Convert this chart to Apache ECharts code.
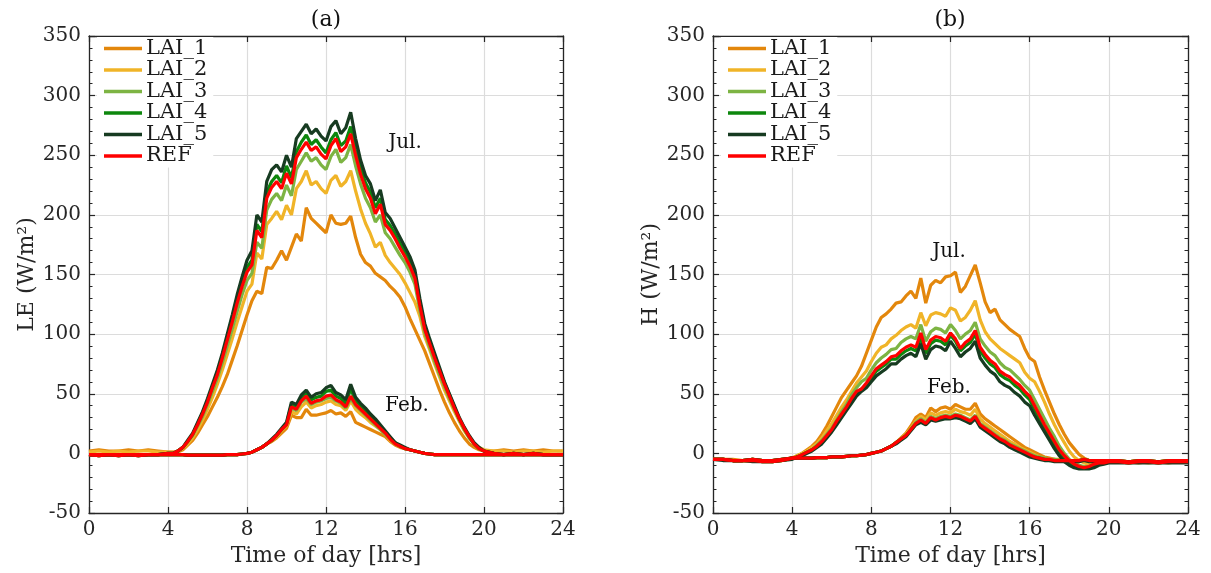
<!DOCTYPE html>
<html><head><meta charset="utf-8">
<script src="https://cdn.jsdelivr.net/npm/echarts@6/dist/echarts.min.js"></script>
<style>html,body{margin:0;padding:0;background:#fff}#c{width:1211px;height:573px}</style>
</head><body><div id="c"></div>
<script>
const hours = [0,0.5,1,1.5,2,2.5,3,3.5,4,
 4.25,4.5,4.75,5,5.25,5.5,5.75,6,
 6.25,6.5,6.75,7,7.25,7.5,7.75,8,
 8.25,8.5,8.75,9,9.25,9.5,9.75,10,
 10.25,10.5,10.75,11,11.25,11.5,11.75,12,
 12.25,12.5,12.75,13,13.25,13.5,13.75,14,
 14.25,14.5,14.75,15,15.25,15.5,15.75,16,
 16.25,16.5,16.75,17,17.25,17.5,17.75,18,
 18.25,18.5,18.75,19,19.25,19.5,19.75,20,
 20.5,21,21.5,22,22.5,23,23.5,24];

const seriesNames = ['LAI_1','LAI_2','LAI_3','LAI_4','LAI_5','REF'];
const xTicks = [0,4,8,12,16,20,24];
const yTicks = [-50,0,50,100,150,200,250,300,350];

// ---- (a) LE, July ----
const leJul_LAI1 = [2,3,2,2,3,2,3,2,1,
 1,1,3,7,11,17,24,31,
 39,47,56,66,78,90,103,116,
 128,136,134,156,155,162,170,162,
 173,184,178,206,197,193,189,185,
 200,193,192,193,199,181,167,160,
 157,151,148,145,140,136,131,123,
 113,104,95,86,75,64,53,43,
 34,26,19,13,8,5,3,2,
 2,3,2,3,2,3,2,2];
const leJul_LAI2 = [1,2,1,2,1,2,2,1,1,
 1,2,4,8,13,20,28,37,
 47,58,70,83,96,110,123,136,
 142,168,163,192,197,203,196,208,
 200,222,228,237,225,228,222,218,
 229,233,224,228,237,220,205,193,
 184,173,177,166,160,155,150,143,
 135,127,115,98,87,75,64,53,
 44,35,27,19,13,8,5,3,
 2,2,1,2,2,1,2,2];
const leJul_LAI3 = [-1,-2,-1,-2,-1,-2,-1,-1,0,
 0,2,5,10,15,23,31,41,
 52,63,76,90,104,119,133,145,
 151,177,172,204,213,218,212,225,
 216,238,245,252,245,248,242,238,
 249,255,244,248,259,241,226,214,
 206,194,200,185,180,173,166,160,
 152,142,120,101,89,77,66,56,
 46,37,28,20,13,8,4,2,
 0,-1,0,-1,0,-1,-1,-1];
const leJul_LAI4 = [-1,-2,-1,-2,-1,-2,-1,-1,0,
 0,2,5,10,16,25,34,44,
 56,68,82,97,113,129,144,156,
 162,192,186,219,228,233,227,241,
 231,253,261,267,259,263,257,252,
 263,269,258,262,274,255,239,227,
 219,206,214,196,191,184,176,169,
 160,150,127,106,94,82,70,59,
 49,39,29,21,14,8,4,2,
 0,-1,0,-1,0,-1,-1,-1];
const leJul_LAI5 = [-1,-2,-1,-2,-1,-2,-1,-1,0,
 0,2,5,11,17,26,35,46,
 58,70,84,100,116,133,148,162,
 170,200,194,228,238,242,236,250,
 240,264,270,276,268,272,266,262,
 274,279,268,273,286,264,246,233,
 226,212,221,202,197,189,181,173,
 165,154,130,109,96,84,72,60,
 50,40,30,22,15,9,5,2,
 0,-1,0,-1,0,-1,-1,-1];
const leJul_REF = [-1,-2,-1,-2,-1,-2,-1,-1,0,
 0,2,5,10,16,24,33,43,
 55,66,80,95,110,126,140,152,
 158,187,181,214,223,228,222,235,
 226,248,255,261,254,257,251,247,
 258,264,253,257,268,250,234,222,
 214,201,209,192,187,180,172,165,
 157,147,124,104,92,80,69,58,
 48,38,29,21,14,8,4,2,
 0,-1,0,-1,0,-1,-1,-1];

// ---- (a) LE, February ----
const leFeb_LAI1 = [-1,-1,-1,-1,-1,-1,-1,-1,-1,
 -1,-1,-1,-1.5,-1.5,-1.5,-1.5,-1.5,
 -1.5,-1.5,-1.5,-1,-1,-1,-0.5,0,
 1,3,5,8,10,13,17,21,
 32,30,30,37,32,32,33,34,
 36,33,34,31,35,26,24,22,
 20,18,16,14,10,7,5,4,
 3,2,1,0,-0.5,-1,-1,-1,
 -1,-1,-1,-1,-1,-1,-1,-1,
 -1,-1,-1,-1,-1,-1,-1,-1];
const leFeb_LAI2 = [-1,-1,-1,-1,-1,-1,-1,-1,-1,
 -1,-1,-1,-1.5,-1.5,-1.5,-1.5,-1.5,
 -1.5,-1.5,-1.5,-1,-1,-1,-0.5,0,
 1,3,5,8,11,14,19,23,
 35,33,39,43,38,40,41,43,
 44,41,40,36,44,37,33,30,
 26,23,20,16,11,8,6,4,
 3,2,1,0,-0.5,-1,-1,-1,
 -1,-1,-1,-1,-1,-1,-1,-1,
 -1,-1,-1,-1,-1,-1,-1,-1];
const leFeb_LAI3 = [-1,-1,-1,-1,-1,-1,-1,-1,-1,
 -1,-1,-1,-1.5,-1.5,-1.5,-1.5,-1.5,
 -1.5,-1.5,-1.5,-1,-1,-1,-0.5,0,
 1,3,5,8,11,15,20,24,
 38,36,43,46,41,43,44,46,
 47,44,42,38,46,40,36,32,
 28,24,20,16,12,8,6,4,
 3,2,1,0,-0.5,-1,-1,-1,
 -1,-1,-1,-1,-1,-1,-1,-1,
 -1,-1,-1,-1,-1,-1,-1,-1];
const leFeb_LAI4 = [-1,-1,-1,-1,-1,-1,-1,-1,-1,
 -1,-1,-1,-1.5,-1.5,-1.5,-1.5,-1.5,
 -1.5,-1.5,-1.5,-1,-1,-1,-0.5,0,
 1,3,5,8,11,15,20,25,
 41,39,47,51,45,47,48,52,
 53,48,46,42,54,44,40,36,
 31,27,23,18,13,9,6,4,
 3,2,1,0,-0.5,-1,-1,-1,
 -1,-1,-1,-1,-1,-1,-1,-1,
 -1,-1,-1,-1,-1,-1,-1,-1];
const leFeb_LAI5 = [-1,-1,-1,-1,-1,-1,-1,-1,-1,
 -1,-1,-1,-1.5,-1.5,-1.5,-1.5,-1.5,
 -1.5,-1.5,-1.5,-1,-1,-1,-0.5,0,
 1,3,5,8,12,16,21,26,
 43,41,49,53,47,50,51,55,
 57,51,49,45,58,47,42,38,
 33,29,24,19,14,9,7,5,
 3,2,1,0,-0.5,-1,-1,-1,
 -1,-1,-1,-1,-1,-1,-1,-1,
 -1,-1,-1,-1,-1,-1,-1,-1];
const leFeb_REF = [-1,-1,-1,-1,-1,-1,-1,-1,-1,
 -1,-1,-1,-1.5,-1.5,-1.5,-1.5,-1.5,
 -1.5,-1.5,-1.5,-1,-1,-1,-0.5,0,
 1,3,5,8,11,15,20,24,
 39,37,44,48,42,44,45,48,
 49,45,43,39,48,41,37,33,
 29,25,21,17,12,8,6,4,
 3,2,1,0,-0.5,-1,-1,-1,
 -1,-1,-1,-1,-1,-1,-1,-1,
 -1,-1,-1,-1,-1,-1,-1,-1];

// ---- (b) H, July ----
const hJul_LAI1 = [-5,-5,-5,-6,-6,-6,-6,-6,-4,
 -2,0,3,6,10,16,23,31,
 39,47,53,59,65,73,84,95,
 106,114,117,121,126,127,132,136,
 130,147,126,141,145,143,148,149,
 152,135,140,149,158,143,127,118,
 121,112,108,104,101,98,88,80,
 77,64,53,43,33,24,16,9,
 4,-1,-4,-6,-7,-7,-7,-7,
 -7,-7,-8,-7,-7,-8,-7,-7];
const hJul_LAI2 = [-5,-5,-6,-6,-6,-6,-7,-6,-4,
 -2,0,2,5,8,13,19,25,
 32,39,45,52,59,64,69,77,
 84,89,91,96,99,103,106,108,
 105,118,107,116,118,117,115,122,
 120,111,114,120,128,112,102,96,
 92,88,85,82,79,76,68,63,
 60,52,43,33,24,16,9,2,
 -3,-6,-8,-9,-9,-8,-8,-7,
 -7,-7,-7,-8,-7,-7,-7,-7];
const hJul_LAI3 = [-5,-5,-6,-6,-6,-7,-7,-6,-4,
 -3,-1,1,3,7,11,16,21,
 28,35,41,49,55,60,63,70,
 76,80,83,87,88,93,96,98,
 96,108,94,102,105,104,101,108,
 103,96,100,103,110,96,90,85,
 82,76,72,70,66,62,57,53,
 45,37,29,21,14,6,0,-5,
 -8,-10,-11,-11,-9,-8,-8,-7,
 -7,-8,-7,-7,-8,-7,-7,-7];
const hJul_LAI4 = [-5,-5,-6,-6,-6,-7,-7,-6,-4,
 -3,-1,1,3,6,9,14,19,
 26,32,38,45,50,54,57,63,
 69,72,75,79,79,83,86,88,
 86,97,84,92,95,94,91,99,
 94,86,90,93,100,86,80,75,
 72,66,63,61,57,54,49,45,
 37,29,21,14,7,1,-4,-8,
 -10,-12,-12,-12,-10,-9,-8,-7,
 -7,-8,-7,-7,-8,-7,-7,-7];
const hJul_LAI5 = [-5,-6,-6,-6,-7,-7,-7,-6,-5,
 -3,-2,0,2,5,8,13,18,
 24,30,36,42,48,52,55,60,
 65,68,71,75,75,79,82,84,
 81,92,79,87,90,89,86,94,
 88,81,85,88,94,80,74,69,
 66,60,57,55,51,48,43,40,
 32,25,18,11,4,-2,-7,-10,
 -12,-13,-13,-13,-12,-10,-9,-8,
 -8,-8,-8,-8,-8,-8,-8,-8];
const hJul_REF = [-5,-5,-6,-6,-6,-7,-7,-6,-4,
 -3,-1,1,3,6,10,15,20,
 27,33,39,46,52,54,59,65,
 71,74,77,81,82,86,89,91,
 89,101,87,95,98,97,94,101,
 96,88,93,96,103,89,83,78,
 75,69,66,64,60,57,52,48,
 40,32,24,17,10,3,-2,-6,
 -9,-11,-12,-11,-9,-8,-8,-7,
 -7,-8,-7,-7,-8,-7,-7,-7];

// ---- (b) H, February ----
const hFeb_LAI1 = [-5,-5,-6,-6,-5,-6,-6,-5,-4,
 -4,-4,-4,-4,-3.5,-3.5,-3.5,-3,
 -3,-3,-2.5,-2,-2,-1.5,-1,0,
 1,2,4,6,9,13,17,23,
 30,33,30,38,35,38,39,37,
 41,39,37,37,42,33,29,26,
 23,20,17,14,11,8,5,3,
 1,-1,-3,-4,-5,-5,-6,-6,
 -6,-6,-5,-6,-6,-6,-6,-6,
 -6,-7,-6,-6,-7,-6,-6,-6];
const hFeb_LAI2 = [-5,-5,-6,-6,-5,-6,-6,-5,-4,
 -4,-4,-4,-4,-3.5,-3.5,-3.5,-3,
 -3,-3,-2.5,-2,-2,-1.5,-1,0,
 1,2,4,6,9,12,16,21,
 27,31,28,34,32,34,35,34,
 37,35,34,32,37,29,25,22,
 19,16,13,10,8,5,3,1,
 -1,-3,-4,-5,-5,-6,-6,-6,
 -6,-6,-5,-6,-6,-6,-6,-6,
 -6,-7,-6,-6,-7,-6,-6,-6];
const hFeb_LAI3 = [-5,-5,-6,-6,-5,-6,-6,-5,-4,
 -4,-4,-4,-4,-3.5,-3.5,-3.5,-3,
 -3,-3,-2.5,-2,-2,-1.5,-1,0,
 1,2,4,6,9,12,15,20,
 26,29,26,31,29,31,32,31,
 33,32,30,28,32,25,22,19,
 16,13,11,8,6,4,2,0,
 -2,-3,-4,-5,-5,-6,-6,-6,
 -6,-6,-5,-6,-6,-6,-6,-6,
 -6,-7,-6,-6,-7,-6,-6,-6];
const hFeb_LAI4 = [-5,-5,-6,-6,-5,-6,-6,-5,-4,
 -4,-4,-4,-4,-3.5,-3.5,-3.5,-3,
 -3,-3,-2.5,-2,-2,-1.5,-1,0,
 1,2,4,6,9,12,15,20,
 25,27,25,29,28,29,30,30,
 31,30,28,26,30,23,20,17,
 14,11,9,6,4,2,0,-2,
 -3,-4,-5,-6,-6,-6,-6,-6,
 -6,-6,-5,-6,-6,-6,-6,-6,
 -6,-7,-6,-6,-7,-6,-6,-6];
const hFeb_LAI5 = [-5,-5,-6,-6,-5,-6,-6,-5,-4,
 -4,-4,-4,-4,-3.5,-3.5,-3.5,-3,
 -3,-3,-2.5,-2,-2,-1.5,-1,0,
 1,2,4,6,8,11,14,19,
 24,26,24,28,27,28,29,29,
 30,29,27,25,29,22,19,16,
 13,10,8,5,3,1,-1,-3,
 -4,-5,-6,-6,-7,-7,-7,-7,
 -7,-7,-6,-7,-7,-7,-7,-7,
 -7,-7,-7,-7,-7,-7,-7,-7];
const hFeb_REF = [-5,-5,-6,-6,-5,-6,-6,-5,-4,
 -4,-4,-4,-4,-3.5,-3.5,-3.5,-3,
 -3,-3,-2.5,-2,-2,-1.5,-1,0,
 1,2,4,6,9,12,15,20,
 25,28,25,30,28,30,31,30,
 32,31,29,27,31,24,21,18,
 15,12,10,7,5,3,1,-1,
 -3,-4,-5,-5,-6,-6,-6,-6,
 -6,-6,-5,-6,-6,-6,-6,-6,
 -6,-7,-6,-6,-7,-6,-6,-6];

const panelTitles = ['(a)', '(b)'];
const yNames = ['LE (W/m²)', 'H (W/m²)'];
const xName = 'Time of day [hrs]';

// ---------- build ----------
const FF = 'DejaVu Serif';
const TXT = '#262626';
const colors = {LAI_1:'#e3870c', LAI_2:'#f0b428', LAI_3:'#7db443', LAI_4:'#0d870d', LAI_5:'#173b21', REF:'#ff0000'};
const panels = [
  {jul:[leJul_LAI1,leJul_LAI2,leJul_LAI3,leJul_LAI4,leJul_LAI5,leJul_REF],
   feb:[leFeb_LAI1,leFeb_LAI2,leFeb_LAI3,leFeb_LAI4,leFeb_LAI5,leFeb_REF]},
  {jul:[hJul_LAI1,hJul_LAI2,hJul_LAI3,hJul_LAI4,hJul_LAI5,hJul_REF],
   feb:[hFeb_LAI1,hFeb_LAI2,hFeb_LAI3,hFeb_LAI4,hFeb_LAI5,hFeb_REF]}
];
const pairs = vals => hours.map((h,i)=>[h, vals[i]]);

const gridPos = [{left:89, top:36, width:474, height:477},{left:713, top:36, width:475, height:477}];

const xAxes = [], yAxes = [];
gridPos.forEach((g,gi)=>{
  ['bottom','top'].forEach(pos=>{
    const main = pos==='bottom';
    xAxes.push({type:'value', gridIndex:gi, position:pos, min:xTicks[0], max:xTicks[xTicks.length-1], interval:xTicks[1]-xTicks[0],
      axisLine:{show:true,onZero:false,lineStyle:{color:TXT,width:1.3}},
      axisTick:{show:true,inside:true,length:6,lineStyle:{color:TXT,width:1.2}},
      axisLabel:{show:main,margin:7,color:TXT,fontFamily:FF,fontSize:20},
      splitLine:{show:main,lineStyle:{color:'#dcdcdc',width:1.2}},
      name: main?xName:'', nameLocation:'middle', nameGap:30,
      nameTextStyle:{color:TXT,fontFamily:FF,fontSize:22}});
  });
  ['left','right'].forEach(pos=>{
    const main = pos==='left';
    yAxes.push({type:'value', gridIndex:gi, position:pos, min:yTicks[0], max:yTicks[yTicks.length-1], interval:yTicks[1]-yTicks[0],
      axisLine:{show:true,onZero:false,lineStyle:{color:TXT,width:1.3}},
      axisTick:{show:true,inside:true,length:6,lineStyle:{color:TXT,width:1.2}},
      minorTick:{show:true,splitNumber:5,length:3.5,lineStyle:{color:TXT,width:1}},
      axisLabel:{show:main,margin:8,color:TXT,fontFamily:FF,fontSize:20},
      splitLine:{show:main,lineStyle:{color:'#dcdcdc',width:1.2}},
      name: main?yNames[gi]:'', nameLocation:'middle', nameGap:51, nameRotate:90,
      nameTextStyle:{color:TXT,fontFamily:FF,fontSize:22}});
  });
});

const series = [];
panels.forEach((p,pi)=>{
  seriesNames.forEach((n,k)=>{
    ['jul','feb'].forEach(m=>{
      series.push({type:'line', name:n, xAxisIndex:pi*2, yAxisIndex:pi*2,
        data:pairs(p[m][k]), showSymbol:false, symbol:'none', smooth:false,
        lineStyle:{width:3.2,color:colors[n]}, itemStyle:{color:colors[n]},
        z:2, silent:true, animation:false});
    });
  });
});

const legends = gridPos.map(g=>({
  data:seriesNames, orient:'vertical', left:g.left+8, top:g.top+1,
  icon:'rect', itemWidth:38, itemHeight:3.5, itemGap:0.5,
  padding:[1,6,1,7], backgroundColor:'#ffffff',
  textStyle:{fontFamily:FF,fontSize:21,color:'#1a1a1a',lineHeight:21,padding:[0,0,0,-1]},
  selectedMode:false
}));

const annot = (x,y,t,fs)=>({type:'text', x, y, style:{text:t, fill:'#111', font:(fs||20)+'px "DejaVu Serif"', textAlign:'center', textVerticalAlign:'middle'}, z:100});

const chart = echarts.init(document.getElementById('c'), null, {renderer:'canvas'});
chart.setOption({
  backgroundColor:'#ffffff',
  animation:false,
  grid:gridPos.map(g=>Object.assign({containLabel:false},g)),
  xAxis:xAxes, yAxis:yAxes, legend:legends, series,
  graphic:[
    annot(326,20,panelTitles[0],22), annot(950,20,panelTitles[1],22),
    annot(405,143,'Jul.'), annot(407,406,'Feb.'),
    annot(949,252,'Jul.'), annot(949,388,'Feb.')
  ]
});
</script></body></html>
